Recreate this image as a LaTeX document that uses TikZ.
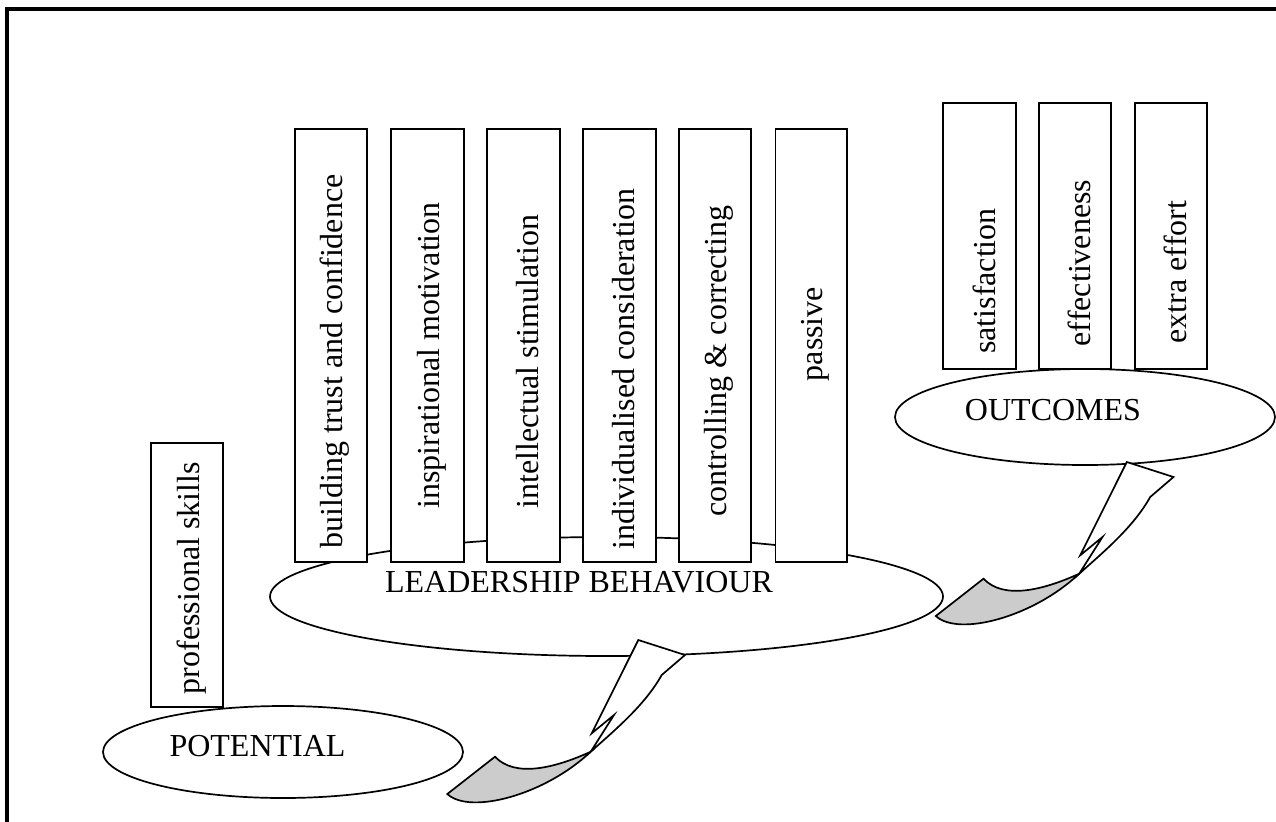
\documentclass[tikz,border=0pt]{standalone}
\usepackage{fontspec}
\setmainfont{Liberation Serif}
\usetikzlibrary{shapes.geometric}
\newcommand{\twistarrow}{%
  \draw[fill=black!20] (590.7,751.7) .. controls (555,768) and (515,778) .. (495,756.7)
        -- (447.3,794) .. controls (470,815) and (545,795) .. (590.7,751.7) -- cycle;
  \draw[fill=white] (638.3,640) -- (591.7,733.3) -- (614,715) -- (590.7,751.7)
        .. controls (615,730) and (645,705) .. (661.7,675) -- (685,655) -- cycle;
}
\begin{document}
\begin{tikzpicture}[x=0.5pt,y=-0.5pt,line width=0.85pt,
  box/.style={draw,fill=white},
  ell/.style={ellipse,draw,fill=white,inner sep=0pt},
  lbl/.style={font=\fontsize{16}{19}\selectfont,inner sep=0pt},
  vlbl/.style={lbl,rotate=90}]
\useasboundingbox (0,0) rectangle (1276,821);
% frame
\draw[line width=2pt] (7,840) -- (7,9) -- (1300,9);
% ellipses
\node[ell,minimum width=336.5pt,minimum height=59.5pt] (lbell) at (606.5,596.5) {};
\node[ell,minimum width=190pt,minimum height=48pt] (outell) at (1085,417) {};
\node[ell,minimum width=180pt,minimum height=46pt] (potell) at (283,752) {};
\node[lbl] (lbtxt) at (579,582) {LEADERSHIP BEHAVIOUR};
\node[lbl] (outtxt) at (1053,410) {OUTCOMES};
\node[lbl] (pottxt) at (257.5,746) {POTENTIAL};
% leadership boxes
\draw[box] (295,129) rectangle (367,562);
\draw[box] (391,129) rectangle (464,562);
\draw[box] (487,129) rectangle (560,562);
\draw[box] (583,129) rectangle (656,562);
\draw[box] (679,129) rectangle (751,562);
\draw[box] (775.5,129) rectangle (847,562);
\node[vlbl] (b1) at (335,361.5) {building trust and confidence};
\node[vlbl] (b2) at (431.5,355.5) {inspirational motivation};
\node[vlbl] (b3) at (527.5,361.5) {intellectual stimulation};
\node[vlbl] (b4) at (623.5,369) {individualised consideration};
\node[vlbl] (b5) at (719,361) {controlling \& correcting};
\node[vlbl] (b6) at (815,334) {passive};
% outcome boxes
\draw[box] (943,103) rectangle (1016,369);
\draw[box] (1039,103) rectangle (1111,369);
\draw[box] (1135,103) rectangle (1207,369);
\node[vlbl] (o1) at (984,281) {satisfaction};
\node[vlbl] (o2) at (1079,263) {effectiveness};
\node[vlbl] (o3) at (1175,272) {extra effort};
% potential box
\draw[box] (151,443) rectangle (223,707);
\node[vlbl] (p1) at (192,578) {professional skills};
% arrows
\twistarrow
\begin{scope}[shift={(488.5,-178)}]
\twistarrow
\end{scope}
\end{tikzpicture}
\end{document}
